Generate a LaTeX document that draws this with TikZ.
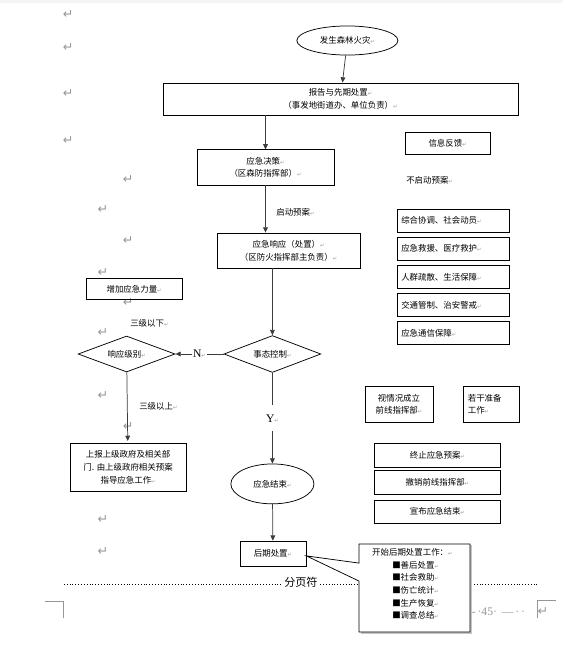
\documentclass[tikz,border=0pt]{standalone}
\usepackage{fontspec}
\usepackage{tikz}
\usetikzlibrary{shapes.geometric,arrows.meta}
\setmainfont{Noto Sans CJK SC}
\newfontfamily\latinfont{Liberation Serif}
\newfontfamily\symfont{DejaVu Sans}
\definecolor{markgray}{RGB}{150,150,150}
\definecolor{linegray}{RGB}{60,60,60}
\newcommand{\pmk}{{\symfont\fontsize{5}{5}\selectfont\color{markgray}↵}}

\begin{document}
\begin{tikzpicture}[
			font=\fontsize{8}{12}\selectfont,
			box/.style={draw, line width=0.7pt, rectangle, align=center, inner sep=1pt},
			listbox/.style={box, text width=3.45cm, align=left, inner xsep=0.14cm, minimum height=0.77cm},
			endbox/.style={box, minimum width=4.17cm, minimum height=0.77cm},
			roundbox/.style={draw, line width=0.7pt, ellipse, inner sep=0pt},
			decision/.style={draw, line width=0.7pt, diamond, aspect=2.6, inner sep=0pt},
			arrow/.style={draw=linegray, line width=0.7pt, -{Triangle[length=5pt,width=4.5pt]}},
			flowtext/.style={inner sep=1pt},
			parmark/.style={text=markgray, font=\symfont\fontsize{12}{12}\selectfont, inner sep=0pt}
			]
			\useasboundingbox (0,0) rectangle (18.767,-22.3);
			\fill[gray!8] (0,0) rectangle (18.767,-0.1);
			
			% Paragraph marks in the margin
			\foreach \x/\y [count=\i] in {2.27/-0.5, 2.27/-1.57, 2.27/-3.13, 2.27/-4.67, 4.27/-5.97, 3.43/-7.0, 4.27/-8.03, 3.43/-9.07, 4.27/-10.1, 3.43/-11.1, 3.43/-13.2, 4.27/-14.23, 3.43/-17.33, 3.43/-18.37}
				\node[parmark] (pm\i) at (\x,\y) {↵};
			
			% Main flow
			\node[roundbox, minimum width=3.37cm, minimum height=0.97cm] (fire) at (11.58,-1.35) {发生森林火灾\pmk};
			\node[box, minimum width=11.83cm, minimum height=1.07cm] (report) at (11.35,-3.30) {
				报告与先期处置\pmk \\
				（事发地街道办、单位负责）\pmk
			};
			\node[box, minimum width=4.57cm, minimum height=1.17cm] (decide) at (8.85,-5.58) {
				应急决策\pmk \\
				（区森防指挥部）\pmk
			};
			\node[box, minimum width=4.77cm, minimum height=1.17cm] (respond) at (9.62,-8.35) {
				应急响应（处置）\pmk \\
				（区防火指挥部主负责）\pmk
			};
			\node[decision, minimum width=3.23cm, minimum height=1.23cm] (control) at (9.08,-11.8) {事态控制\pmk};
			\node[roundbox, minimum width=2.77cm, minimum height=1.33cm] (finish) at (9.08,-16.13) {应急结束\pmk};
			\node[box, minimum width=2.2cm, minimum height=0.83cm] (after) at (9.1,-18.45) {后期处置\pmk};
			
			\draw[arrow] (fire) -- (report);
			\draw[arrow] (report.south -| decide) -- (decide);
			\draw[arrow] (decide) -- (decide |- respond.north);
			\node[flowtext, anchor=west] (startplan) at (9.17,-7.07) {启动预案\pmk};
			\draw[arrow] (control.north |- respond.south) -- (control.north);
			\draw[arrow] (control) -- node[fill=white, inner xsep=2pt, inner ysep=0.3cm] (yes) {\latinfont\fontsize{11}{11}\selectfont Y\pmk} (finish);
			\draw[arrow] (finish) -- (after);
			
			% Left branch
			\node[box, minimum width=3.2cm, minimum height=0.73cm] (more) at (4.47,-9.63) {增加应急力量\pmk};
			\node[flowtext, anchor=west] (below) at (4.3,-10.77) {三级以下\pmk};
			\node[decision, minimum width=3.23cm, minimum height=1.2cm] (level) at (4.22,-11.8) {响应级别\pmk};
			\draw[arrow] (control) -- node[fill=white, inner sep=1pt] (no) {\latinfont\fontsize{11}{11}\selectfont N\pmk} (level);
			\node[flowtext, anchor=west] (above) at (4.6,-13.53) {三级以上\pmk};
			\node[box, minimum width=3.87cm, minimum height=1.63cm] (upreport) at (4.27,-15.58) {
				上报上级政府及相关部 \\
				门. 由上级政府相关预案 \\
				指导应急工作\pmk
			};
			\draw[arrow, shorten >=1.5pt] (level) -- (upreport);
			
			% Right column
			\node[box, minimum width=2.83cm, minimum height=0.73cm] (feedback) at (14.92,-4.77) {信息反馈\pmk};
			\node[flowtext, anchor=west] (nostart) at (13.5,-6.0) {不启动预案\pmk};
			\foreach \txt [count=\i] in {综合协调、社会动员, 应急救援、医疗救护, 人群疏散、生活保障, 交通管制、治安警戒, 应急通信保障}
				\node[listbox] (task\i) at (15.1,{-7.35-0.94*(\i-1)}) {\txt\pmk};
			\node[box, minimum width=2.27cm, minimum height=1.17cm] (frontline) at (13.3,-13.48) {
				视情况成立 \\
				前线指挥部\pmk
			};
			\node[box, text width=1.55cm, align=left, inner xsep=0.16cm, minimum height=1.17cm] (prepare) at (16.37,-13.48) {
				若干准备 \\
				工作\pmk
			};
			\node[endbox] (stopplan) at (14.58,-15.18) {终止应急预案\pmk};
			\node[endbox] (cancel) at (14.58,-16.08) {撤销前线指挥部\pmk};
			\node[endbox] (announce) at (14.58,-17.05) {宣布应急结束\pmk};
			
			% Page break line
			\coordinate (breakL) at (2.13,-19.47);
			\coordinate (breakR) at (17.93,-19.47);
			\draw[dotted, line width=0.7pt] (breakL) -- (breakR);
			\node[fill=white, inner sep=1pt, font=\fontsize{10.5}{11}\selectfont] (pagebreak) at (10.03,-19.42) {分页符};
			
			% Callout for the follow-up work
			\coordinate (tip) at ([yshift=-0.08cm]after.east);
			\fill[gray!45] (12.02,-18.18) -- (15.72,-18.18) -- (15.72,-21.12) -- (12.02,-21.12) -- cycle;
			\draw[line width=0.7pt, fill=white] (11.97,-18.13) -- (11.97,-18.77) -- (tip) -- (11.97,-19.37) -- (11.97,-21.07) -- (15.67,-21.07) -- (15.67,-18.13) -- cycle;
			\node[anchor=north west, inner sep=0pt, align=left] (aftertext) at (12.4,-18.27) {
				开始后期处置工作：\pmk \\
				\hspace*{0.67cm}■善后处置\pmk \\
				\hspace*{0.67cm}■社会救助\pmk \\
				\hspace*{0.67cm}■伤亡统计\pmk \\
				\hspace*{0.67cm}■生产恢复\pmk \\
				\hspace*{0.67cm}■调查总结\pmk
			};
			
			% Page corner marks and number
			\draw[markgray, line width=0.6pt] (1.5,-20.03) -- (2.1,-20.03) -- (2.1,-20.6);
			\draw[markgray, line width=0.6pt] (18.53,-20.0) -- (17.9,-20.0) -- (17.9,-20.6);
			\node[anchor=west, inner sep=0pt, text=markgray, font=\latinfont\fontsize{11}{11}\selectfont] (pagenum) at (15.72,-20.4) {-\,·45·\, —\,·\,·};
			\node[parmark] (pmend) at (18.1,-20.4) {↵};
			
		\end{tikzpicture}
\end{document}
